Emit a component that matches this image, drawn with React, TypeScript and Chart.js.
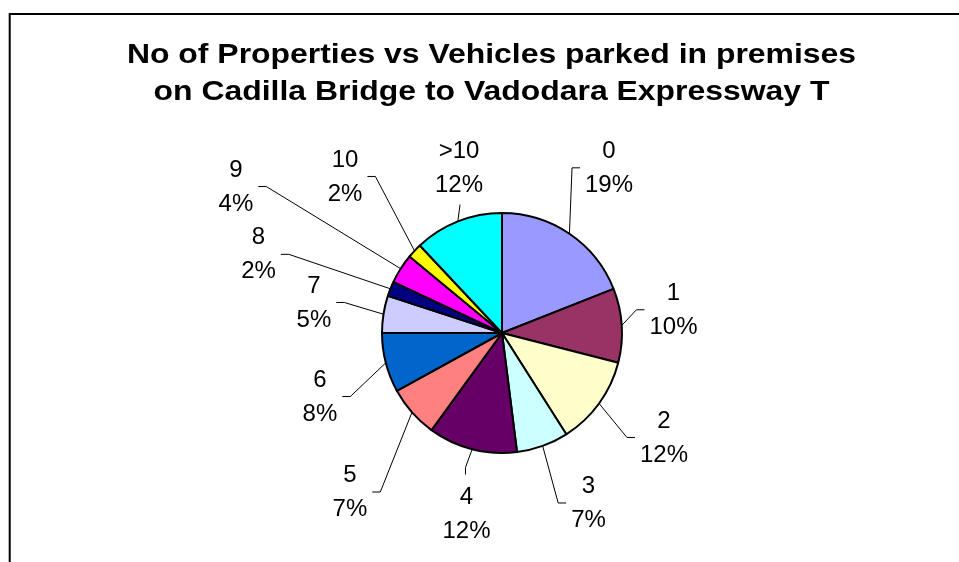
import React, { useEffect, useRef } from "react";
import { Chart, registerables } from "chart.js";

Chart.register(...registerables);

const CATEGORIES = ["0", "1", "2", "3", "4", "5", "6", "7", "8", "9", "10", ">10"];
const PERCENTS = [19, 10, 12, 7, 12, 7, 8, 5, 2, 4, 2, 12];
const COLORS = [
  "#9999FF", "#993366", "#FFFFCC", "#CCFFFF", "#660066", "#FF8080",
  "#0066CC", "#CCCCFF", "#000080", "#FF00FF", "#FFFF00", "#00FFFF",
];
const TITLE_LINES = [
  "No of Properties vs Vehicles parked in premises",
  "on Cadilla Bridge to Vadodara Expressway T",
];

// Label block placement, in units of the pie radius relative to the pie centre,
// plus the side of the label block the leader line attaches to.
const LABEL_LAYOUT: [number, number, string][] = [
  [0.892, -1.389, "L"],
  [1.429, -0.206, "L"],
  [1.35, 0.858, "L"],
  [0.721, 1.404, "L"],
  [-0.296, 1.492, "T"],
  [-1.267, 1.3125, "R"],
  [-1.517, 0.517, "R"],
  [-1.567, -0.267, "R"],
  [-2.029, -0.668, "R"],
  [-2.217, -1.233, "R"],
  [-1.308, -1.317, "R"],
  [-0.358, -1.392, "B"],
];

const FONT_FAMILY = '"Liberation Sans", Arial, Helvetica, sans-serif';
const TITLE_STRETCH = 1.14;

const decorPlugin = {
  id: "decor",
  beforeDraw(chart: any) {
    const ctx = chart.ctx;
    ctx.save();
    ctx.fillStyle = "#ffffff";
    ctx.fillRect(0, 0, chart.width, chart.height);
    ctx.strokeStyle = "#000000";
    ctx.lineWidth = 2;
    ctx.beginPath();
    ctx.moveTo(9.7, chart.height + 5);
    ctx.lineTo(9.7, 14);
    ctx.lineTo(chart.width + 5, 14);
    ctx.stroke();
    // title
    ctx.fillStyle = "#000000";
    ctx.font = `bold 28px ${FONT_FAMILY}`;
    ctx.textAlign = "center";
    ctx.textBaseline = "alphabetic";
    const cx = chart.width / 2 + 12;
    ctx.translate(cx, 0);
    ctx.scale(TITLE_STRETCH, 1);
    ctx.fillText(TITLE_LINES[0], 0, 63.3);
    ctx.fillText(TITLE_LINES[1], 0, 100);
    ctx.restore();
  },
  afterDatasetsDraw(chart: any) {
    const ctx = chart.ctx;
    const meta = chart.getDatasetMeta(0);
    const data = chart.data.datasets[0].data as number[];
    const total = data.reduce((a, b) => a + b, 0);
    ctx.save();
    ctx.font = `24px ${FONT_FAMILY}`;
    ctx.fillStyle = "#000000";
    ctx.strokeStyle = "#000000";
    ctx.lineWidth = 1;
    ctx.textAlign = "center";
    ctx.textBaseline = "alphabetic";
    meta.data.forEach((arc: any, i: number) => {
      const { x, y, startAngle, endAngle, outerRadius } = arc.getProps(
        ["x", "y", "startAngle", "endAngle", "outerRadius"],
        true
      );
      const mid = (startAngle + endAngle) / 2;
      const ex = x + outerRadius * Math.cos(mid);
      const ey = y + outerRadius * Math.sin(mid);
      const [ux, uy, side] = LABEL_LAYOUT[i];
      const cx = x + ux * outerRadius;
      const cy = y + uy * outerRadius;
      const line1 = String(chart.data.labels[i]);
      const line2 = Math.round((data[i] / total) * 100) + "%";
      const w = Math.max(ctx.measureText(line1).width, ctx.measureText(line2).width);
      const l1 = cy - 17;
      const l2 = cy + 17;
      ctx.fillText(line1, cx, l1 + 8.6);
      ctx.fillText(line2, cx, l2 + 8.6);
      let pts: number[][] = [];
      if (side === "L") {
        const endX = cx - w / 2 - 5;
        const endY = cy + 1.5;
        pts = [[ex, ey], [endX - 8, endY], [endX, endY]];
      } else if (side === "R") {
        const endX = cx + w / 2 + 5;
        const endY = cy + 1.5;
        pts = [[ex, ey], [endX + 8, endY], [endX, endY]];
      } else if (side === "T") {
        const endY = l1 - 8.6 - 12;
        pts = [[ex, ey], [cx - 1, endY - 7], [cx - 1, endY]];
      } else {
        const endY = l2 + 8.6 + 13;
        pts = [[ex, ey], [cx + 1, endY]];
      }
      ctx.beginPath();
      ctx.moveTo(pts[0][0], pts[0][1]);
      for (let k = 1; k < pts.length; k++) ctx.lineTo(pts[k][0], pts[k][1]);
      ctx.stroke();
    });
    ctx.restore();
  },
};

export default function App() {
  const canvasRef = useRef<HTMLCanvasElement | null>(null);

  useEffect(() => {
    if (!canvasRef.current) return;
    const chart = new Chart(canvasRef.current, {
      type: "pie",
      data: {
        labels: CATEGORIES,
        datasets: [
          {
            data: PERCENTS,
            backgroundColor: COLORS,
            borderColor: "#000000",
            borderWidth: 2,
          },
        ],
      },
      options: {
        animation: false,
        responsive: false,
        maintainAspectRatio: false,
        layout: { padding: { left: 381, right: 336, top: 212, bottom: 108 } },
        plugins: {
          legend: { display: false },
          tooltip: { enabled: false },
          title: { display: false },
        },
      },
      plugins: [decorPlugin],
    });
    return () => chart.destroy();
  }, []);

  return (
    <div style={{ position: "absolute", left: 0, top: 0, width: 959, height: 562, background: "#fff" }}>
      <canvas ref={canvasRef} width={959} height={562} style={{ width: 959, height: 562 }} />
    </div>
  );
}
